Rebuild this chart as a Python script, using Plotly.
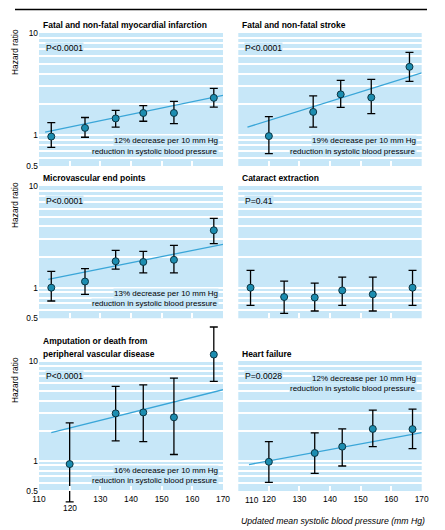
import plotly.graph_objects as go
import math

W, H = 445, 530
OFF = 8            # the page places the figure 8 px in from the top-left corner
FW, FH = W - OFF, H - OFF

# ---------------- data ----------------
mi_x = [114, 125, 135, 144, 154, 167]
mi_hr = [0.97, 1.18, 1.46, 1.65, 1.65, 2.32]
mi_lo = [0.76, 0.955, 1.20, 1.37, 1.30, 1.88]
mi_hi = [1.33, 1.49, 1.75, 1.95, 2.14, 2.87]
mi_fit_x = [112, 170]
mi_fit_y = [1.07, 2.45]

stroke_x = [120, 134.5, 143.5, 153.5, 166]
stroke_hr = [0.98, 1.69, 2.51, 2.34, 4.67]
stroke_lo = [0.66, 1.20, 1.87, 1.63, 3.36]
stroke_hi = [1.52, 2.43, 3.44, 3.52, 6.46]
stroke_fit_x = [113, 170]
stroke_fit_y = [1.20, 4.08]

micro_x = [114, 125, 135, 144, 154, 167]
micro_hr = [1.00, 1.15, 1.82, 1.79, 1.88, 3.67]
micro_lo = [0.74, 0.86, 1.52, 1.40, 1.40, 2.71]
micro_hi = [1.45, 1.54, 2.33, 2.28, 2.61, 4.81]
micro_fit_x = [113, 170]
micro_fit_y = [1.21, 2.67]

cat_x = [114, 125, 135, 144, 154, 167]
cat_hr = [1.00, 0.81, 0.80, 0.94, 0.86, 1.00]
cat_lo = [0.67, 0.56, 0.59, 0.67, 0.59, 0.67]
cat_hi = [1.48, 1.16, 1.11, 1.27, 1.27, 1.48]

amp_x = [120, 135, 144, 154, 167]
amp_hr = [0.93, 2.99, 3.06, 2.73, 11.6]
amp_lo = [0.39, 1.59, 1.56, 1.16, 6.25]
amp_hi = [2.40, 5.58, 5.78, 6.74, 21.9]
amp_fit_x = [114, 170]
amp_fit_y = [1.92, 5.16]

hf_x = [120, 135, 144, 154, 167]
hf_hr = [0.98, 1.20, 1.39, 2.09, 2.08]
hf_lo = [0.61, 0.75, 0.89, 1.39, 1.33]
hf_hi = [1.56, 1.91, 2.09, 3.23, 3.30]
hf_fit_x = [113.5, 170]
hf_fit_y = [0.92, 1.92]

titles = [
    ["Fatal and non-fatal myocardial infarction"],
    ["Fatal and non-fatal stroke"],
    ["Microvascular end points"],
    ["Cataract extraction"],
    ["Amputation or death from", "peripheral vascular disease"],
    ["Heart failure"],
]
p_texts = ["P<0.0001", "P<0.0001", "P<0.0001", "P=0.41", "P<0.0001", "P=0.0028"]
decrease_texts = ["12% decrease per 10 mm Hg", "19% decrease per 10 mm Hg",
                  "13% decrease per 10 mm Hg", None,
                  "16% decrease per 10 mm Hg", "12% decrease per 10 mm Hg"]
second_line = "reduction in systolic blood pressure"

x_ticks = [110, 120, 130, 140, 150, 160, 170]
y_grid = [0.5, 0.6, 0.7, 0.8, 0.9, 1, 2, 3, 4, 5, 6, 7, 8, 9, 10]
y_labels = {0.5: "0.5", 1: "1", 10: "10"}
y_min, y_max = 0.5, 10
# the amputation panel lets its error bars run past the shaded box
amp_range = (0.35, 25)

# ---------------- styling ----------------
BG = "#c7e7f8"
MARK = "#1c8db0"
FIT = "#3aa6d8"
FONT = "Liberation Sans, Arial, sans-serif"

# panel boxes in screen pixels: (left, right) and (top, bottom) of the shaded area
cols = [(39, 223), (238.3, 421.7)]
rows = [(33, 166), (186, 318.3), (361, 491)]


def px_x(v):
    return (v - OFF) / FW


def px_y(v):
    return 1 - (v - OFF) / FH


fig = go.Figure()

panels = [
    (mi_x, mi_hr, mi_lo, mi_hi, mi_fit_x, mi_fit_y),
    (stroke_x, stroke_hr, stroke_lo, stroke_hi, stroke_fit_x, stroke_fit_y),
    (micro_x, micro_hr, micro_lo, micro_hi, micro_fit_x, micro_fit_y),
    (cat_x, cat_hr, cat_lo, cat_hi, None, None),
    (amp_x, amp_hr, amp_lo, amp_hi, amp_fit_x, amp_fit_y),
    (hf_x, hf_hr, hf_lo, hf_hi, hf_fit_x, hf_fit_y),
]

layout = {}
annotations = []
shapes = []
for i, (xs, hr, lo, hi, fx, fy) in enumerate(panels):
    r, c = divmod(i, 2)
    n = i + 1
    xa = "x" if n == 1 else f"x{n}"
    ya = "y" if n == 1 else f"y{n}"
    if fx is not None:
        fig.add_trace(go.Scatter(x=fx, y=fy, mode="lines",
                                 line=dict(color=FIT, width=1.3),
                                 xaxis=xa, yaxis=ya, showlegend=False,
                                 hoverinfo="skip"))
    fig.add_trace(go.Scatter(
        x=xs, y=hr, mode="markers",
        marker=dict(size=7, color=MARK, line=dict(color="#0b3442", width=1)),
        error_y=dict(type="data", symmetric=False,
                     array=[h - m for h, m in zip(hi, hr)],
                     arrayminus=[m - l for m, l in zip(hr, lo)],
                     color="black", thickness=1.3, width=4),
        cliponaxis=False,
        xaxis=xa, yaxis=ya, showlegend=False))

    l, rr = cols[c]
    t, b = rows[r]
    dec = (b - t) / (math.log10(y_max) - math.log10(y_min))  # px per decade
    if n == 5:
        lo_r, hi_r = amp_range
        d_top = t - (math.log10(hi_r) - math.log10(y_max)) * dec
        d_bot = b + (math.log10(y_min) - math.log10(lo_r)) * dec
    else:
        lo_r, hi_r = y_min, y_max
        d_top, d_bot = t, b

    # shaded panel box
    shapes.append(dict(type="rect", xref="paper", yref="paper", layer="below",
                       x0=px_x(l), x1=px_x(rr), y0=px_y(b), y1=px_y(t),
                       fillcolor=BG, line=dict(width=0)))

    bottom_row = (r == 2)
    ticktext = [str(v) for v in x_ticks]
    if n == 5:
        ticktext[1] = ""
    if n == 6:
        ticktext[0] = ""
    xdict = dict(
        domain=[px_x(l), px_x(rr)], anchor=ya,
        range=[110, 170], tickvals=x_ticks, ticktext=ticktext,
        showticklabels=bottom_row, ticks="inside", ticklen=5, tickwidth=1.5,
        tickcolor="white", showgrid=False, zeroline=False, showline=False,
        automargin=False, ticklabelstandoff=2,
        tickfont=dict(family=FONT, size=8.4, color="black"), fixedrange=True)
    if n == 5:
        xdict.update(anchor="free", position=px_y(b))
    layout["xaxis" if n == 1 else f"xaxis{n}"] = xdict
    layout["yaxis" if n == 1 else f"yaxis{n}"] = dict(
        domain=[px_y(d_bot), px_y(d_top)], anchor=xa, type="log",
        range=[math.log10(lo_r), math.log10(hi_r)], tickvals=y_grid,
        ticktext=[y_labels.get(v, "") for v in y_grid],
        showticklabels=(c == 0), ticks="", showgrid=True, gridcolor="white",
        gridwidth=1.5, zeroline=False, showline=False, automargin=False,
        tickfont=dict(family=FONT, size=8.4, color="black"), fixedrange=True)

    # panel title
    if r < 2:
        title_y = [t - 8]
    elif n == 5:
        title_y = [341, 354]
    else:
        title_y = [354]
    for line_txt, yy in zip(titles[i], title_y):
        annotations.append(dict(text="<b>" + line_txt + "</b>", xref="paper", yref="paper",
                                x=px_x(l + 1.5), y=px_y(yy), xanchor="left", yanchor="middle",
                                showarrow=False,
                                font=dict(family=FONT, size=8.5, color="black")))
    # P value
    annotations.append(dict(text=p_texts[i], xref="paper", yref="paper",
                            x=px_x(l + 6), y=px_y(t + 15), xanchor="left", yanchor="middle",
                            showarrow=False, bgcolor=BG, borderpad=0,
                            font=dict(family=FONT, size=8.6, color="black")))
    # decrease text
    if decrease_texts[i] is not None:
        if n == 6:
            y1, y2 = t + 17, t + 27
        elif r == 2:
            y1, y2 = b - 21, b - 11
        else:
            y1, y2 = b - 25, b - 15
        for txt, yy in ((decrease_texts[i], y1), (second_line, y2)):
            annotations.append(dict(text=txt, xref="paper", yref="paper",
                                    x=px_x(rr - 4.5), y=px_y(yy), xanchor="right",
                                    yanchor="middle", showarrow=False, bgcolor=BG,
                                    borderpad=0,
                                    font=dict(family=FONT, size=8, color="black")))
    # y-axis title
    if c == 0:
        annotations.append(dict(text="Hazard ratio", xref="paper", yref="paper",
                                x=px_x(15), y=px_y(t + 19), xanchor="center", yanchor="middle",
                                textangle=-90, showarrow=False,
                                font=dict(family=FONT, size=8.4, color="black")))

# tick labels moved off their usual spot in the reference
annotations.append(dict(text="120", xref="x5", yref="paper", x=120, y=px_y(508),
                        xanchor="center", yanchor="middle", showarrow=False,
                        font=dict(family=FONT, size=8.4, color="black")))
annotations.append(dict(text="110", xref="paper", yref="paper", x=px_x(252), y=px_y(500),
                        xanchor="center", yanchor="middle", showarrow=False,
                        font=dict(family=FONT, size=8.4, color="black")))
# x-axis title
annotations.append(dict(text="<i>Updated mean systolic blood pressure (mm Hg)</i>",
                        xref="paper", yref="paper", x=px_x(427), y=px_y(521),
                        xanchor="right", yanchor="middle", showarrow=False,
                        font=dict(family=FONT, size=8.7, color="black")))

# rule across the top of the figure
shapes.append(dict(type="line", xref="paper", yref="paper",
                   x0=px_x(15), x1=px_x(427), y0=px_y(OFF + 1.6), y1=px_y(OFF + 1.6),
                   line=dict(color="black", width=1.5)))

fig.update_layout(
    width=FW, height=FH,
    margin=dict(l=0, r=0, t=0, b=0, pad=0, autoexpand=False),
    paper_bgcolor="white", plot_bgcolor="rgba(0,0,0,0)", showlegend=False,
    annotations=annotations, shapes=shapes, **layout)

fig.write_html("out.html")
